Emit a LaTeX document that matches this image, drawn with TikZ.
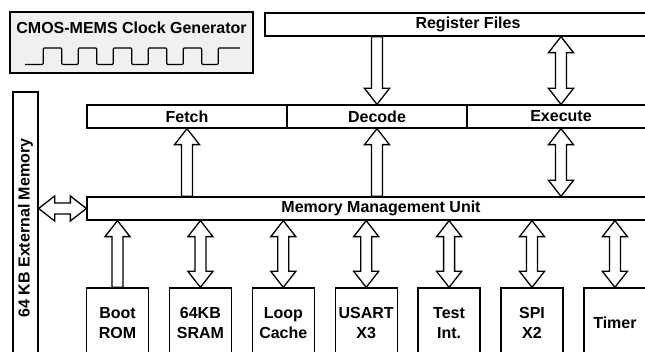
\documentclass[tikz,border=0pt]{standalone}
\usepackage{fontspec}
\setmainfont{Liberation Sans}
\usetikzlibrary{calc}

\begin{document}
\begin{tikzpicture}[x=1pt, y=-1pt, line width=1.3pt]
    \tikzset{
      txt/.style={inner sep=0pt, align=center, font=\fontsize{16}{19.5}\selectfont\bfseries},
      block/.style={txt, draw=black, rectangle},
      bar/.style={block, minimum height=23pt},
      unit/.style={block, minimum width=62pt, minimum height=70pt},
      single/.style={draw=black, fill=white, line join=miter,
        to path={let \p1=($(\tikztotarget)!16pt!(\tikztostart)$) in
          ($(\tikztostart)!5.5pt!90:(\tikztotarget)$) -- ($(\p1)!5.5pt!90:(\tikztotarget)$)
          -- ($(\p1)!12.5pt!90:(\tikztotarget)$) -- (\tikztotarget)
          -- ($(\p1)!12.5pt!-90:(\tikztotarget)$) -- ($(\p1)!5.5pt!-90:(\tikztotarget)$)
          -- ($(\tikztostart)!5.5pt!-90:(\tikztotarget)$) -- cycle}},
      both/.style={draw=black, fill=white, line join=miter,
        to path={let \p1=($(\tikztostart)!16pt!(\tikztotarget)$),
                     \p2=($(\tikztotarget)!16pt!(\tikztostart)$) in
          (\tikztostart) -- ($(\p1)!12.5pt!90:(\tikztotarget)$) -- ($(\p1)!5.5pt!90:(\tikztotarget)$)
          -- ($(\p2)!5.5pt!90:(\tikztotarget)$) -- ($(\p2)!12.5pt!90:(\tikztotarget)$)
          -- (\tikztotarget)
          -- ($(\p2)!12.5pt!-90:(\tikztotarget)$) -- ($(\p2)!5.5pt!-90:(\tikztotarget)$)
          -- ($(\p1)!5.5pt!-90:(\tikztotarget)$) -- ($(\p1)!12.5pt!-90:(\tikztotarget)$) -- cycle}}
    }
    \useasboundingbox (0,0) rectangle (645,352);
    \clip (0,0) rectangle (645,352);

    \draw (131.5,42.5) node (clock) [block, fill=gray!12, minimum width=243pt, minimum height=61pt] {};
    \draw (131.5,28) node (clocktitle) [txt] {CMOS-MEMS Clock Generator};
    \draw[rounded corners=1pt] (25,64.5)
      foreach \k in {0,...,4} {
        -- (43.3+35*\k,64.5) -- (43.3+35*\k,48) -- (61.7+35*\k,48) -- (61.7+35*\k,64.5)
      } -- (218.3,64.5) -- (218.3,48) -- (240,48); % clock

    \draw (468,24.5) node (regs) [bar, minimum width=406pt] {Register Files};
    \draw (187,116.5) node (fetch) [bar, minimum width=200pt] {Fetch};
    \draw (377,116.5) node (decode) [bar, minimum width=180pt] {Decode};
    \draw (561,116.5) node (execute) [bar, minimum width=188pt] {Execute};
    \draw (381,208.5) node (mmu) [bar, minimum width=588pt] {Memory Management Unit};
    \draw (25.5,228) node (ext) [block, rotate=90, minimum width=272pt, minimum height=25pt] {64 KB External Memory};

    \foreach \name/\txt [count=\i from 0] in {boot/{Boot\\ROM}, sram/{64KB\\SRAM}, cache/{Loop\\Cache},
        usart/{USART\\X3}, test/{Test\\Int.}, spi/{SPI\\X2}, timer/{Timer}}
      \draw (117.5+82.9*\i,323) node (\name) [unit] {\txt};

    \draw[single] (decode.north |- regs.south) to (decode.north);
    \draw[both] (execute.north |- regs.south) to (execute.north);
    \draw[single] (fetch.south |- mmu.north) to (fetch.south);
    \draw[single] (decode.south |- mmu.north) to (decode.south);
    \draw[both] (execute.south |- mmu.north) to (execute.south);
    \draw[both] (ext.south |- mmu.west) to (mmu.west);
    \draw[single] (boot.north) to (boot.north |- mmu.south);
    \foreach \name in {sram, cache, usart, test, spi, timer}
      \draw[both] (\name.north) to (\name.north |- mmu.south);

  \end{tikzpicture}
\end{document}
